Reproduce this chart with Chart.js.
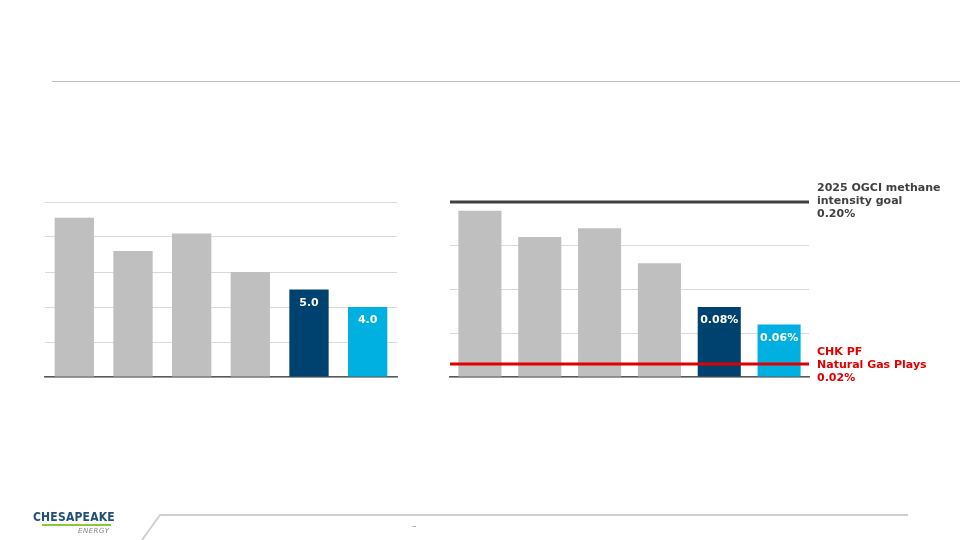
<!DOCTYPE html>
<html>
<head>
<meta charset="utf-8">
<script src="https://cdn.jsdelivr.net/npm/chart.js@4.4.1/dist/chart.umd.min.js"></script>
<style>
  html, body { margin: 0; padding: 0; background: #fff; }
  body { width: 960px; height: 540px; position: relative; overflow: hidden; font-family: "DejaVu Sans", sans-serif; }
  #topRule { position: absolute; left: 52px; top: 81px; width: 908px; height: 1px; background: #bfbfbf; }
  #leftWrap { position: absolute; left: 0; top: 180px; width: 420px; height: 220px; }
  #rightWrap { position: absolute; left: 440px; top: 170px; width: 520px; height: 230px; }
  #footer { position: absolute; left: 0; top: 500px; width: 960px; height: 40px; }
  .logo { position: absolute; left: 33px; top: 510px; font: bold 12px "DejaVu Sans Condensed", "DejaVu Sans", sans-serif; color: #1f4e79; letter-spacing: 0.2px; }
  .logo .bar { position: absolute; left: 9px; top: 14px; width: 69px; height: 2px; background: #8dc63f; }
  .logo .energy { position: absolute; left: 45px; top: 17px; font: italic 7px "DejaVu Sans", sans-serif; color: #808080; letter-spacing: 0.5px; }
  .pg { position: absolute; left: 412px; top: 521px; font: 9px "DejaVu Sans", sans-serif; color: #808080; }
</style>
</head>
<body>
<div id="topRule"></div>
<div id="leftWrap"><canvas id="leftChart" width="420" height="220"></canvas></div>
<div id="rightWrap"><canvas id="rightChart" width="520" height="230"></canvas></div>
<canvas id="footer" width="960" height="40"></canvas>
<div class="logo">CHESAPEAKE<div class="bar"></div><div class="energy">ENERGY</div></div>
<div class="pg">–</div>
<script>
// categories are not labelled on the slide
const categories = ["Peer 1", "Peer 2", "Peer 3", "Peer 4", "CHK", "CHK PF"];

// left panel
const leftValues = [9.1, 7.2, 8.2, 6.0, 5.0, 4.0];
const leftLabels = [null, null, null, null, "5.0", "4.0"];

// right panel (methane intensity, %)
const rightValues = [0.19, 0.16, 0.17, 0.13, 0.08, 0.06];
const rightLabels = [null, null, null, null, "0.08%", "0.06%"];
const goalValue = 0.20;
const goalText = ["2025 OGCI methane", "intensity goal", "0.20%"];
const gasPlaysValue = 0.015;
const gasPlaysText = ["CHK PF", "Natural Gas Plays", "0.02%"];

const barColors = ["#bfbfbf", "#bfbfbf", "#bfbfbf", "#bfbfbf", "#00426f", "#00b0e0"];

const barLabelPlugin = {
    id: "barLabels",
    afterDatasetsDraw(chart, args, opts) {
        const ctx = chart.ctx;
        const meta = chart.getDatasetMeta(0);
        ctx.save();
        ctx.font = "bold 11px 'DejaVu Sans', sans-serif";
        ctx.fillStyle = "#fff";
        ctx.textAlign = "center";
        ctx.textBaseline = "top";
        meta.data.forEach((bar, i) => {
            const txt = opts.labels[i];
            if (txt) ctx.fillText(txt, bar.x, bar.y + 8);
        });
        ctx.restore();
    }
};

const refLinePlugin = {
    id: "refLines",
    afterDatasetsDraw(chart, args, opts) {
        if (!opts.lines) return;
        const ctx = chart.ctx;
        const area = chart.chartArea;
        const y = chart.scales.y;
        ctx.save();
        opts.lines.forEach(l => {
            const py = y.getPixelForValue(l.value);
            ctx.strokeStyle = l.color;
            ctx.lineWidth = 3;
            ctx.beginPath();
            ctx.moveTo(area.left, py);
            ctx.lineTo(area.right, py);
            ctx.stroke();
            ctx.font = "bold 11px 'DejaVu Sans', sans-serif";
            ctx.fillStyle = l.color;
            ctx.textAlign = "left";
            ctx.textBaseline = "middle";
            l.text.forEach((t, k) => {
                ctx.fillText(t, area.right + 8, py + l.textOffset + k * 13);
            });
        });
        ctx.restore();
    }
};

function makeChart(canvasId, values, labels, maxY, step, barPct, padding, lines) {
    return new Chart(document.getElementById(canvasId), {
        type: "bar",
        data: {
            labels: categories,
            datasets: [{
                data: values,
                backgroundColor: barColors,
                borderWidth: 0,
                categoryPercentage: 1,
                barPercentage: barPct
            }]
        },
        options: {
            responsive: false,
            animation: false,
            layout: { padding: padding },
            plugins: {
                legend: { display: false },
                tooltip: { enabled: false },
                barLabels: { labels: labels },
                refLines: { lines: lines }
            },
            scales: {
                x: {
                    grid: { display: false, drawTicks: false },
                    ticks: { display: false },
                    border: { display: true, color: "#595959", width: 1.5 }
                },
                y: {
                    min: 0,
                    max: maxY,
                    ticks: { display: false, stepSize: step },
                    grid: { color: "#d9d9d9", lineWidth: 1, drawTicks: false },
                    border: { display: false }
                }
            }
        },
        plugins: [barLabelPlugin, refLinePlugin]
    });
}

makeChart("leftChart", leftValues, leftLabels, 10, 2, 0.67,
    { left: 45, right: 23, top: 22, bottom: 23 }, null);

makeChart("rightChart", rightValues, rightLabels, 0.20, 0.05, 0.72,
    { left: 10, right: 151, top: 32, bottom: 23 }, [
        { value: goalValue, color: "#404040", text: goalText, textOffset: -14 },
        { value: gasPlaysValue, color: "#e00000", text: gasPlaysText, textOffset: -12 }
    ]);

// footer rule
const fctx = document.getElementById("footer").getContext("2d");
fctx.strokeStyle = "#d0d0d0";
fctx.lineWidth = 2;
fctx.beginPath();
fctx.moveTo(908, 15);
fctx.lineTo(160, 15);
fctx.lineTo(142, 40);
fctx.stroke();
</script>
</body>
</html>
